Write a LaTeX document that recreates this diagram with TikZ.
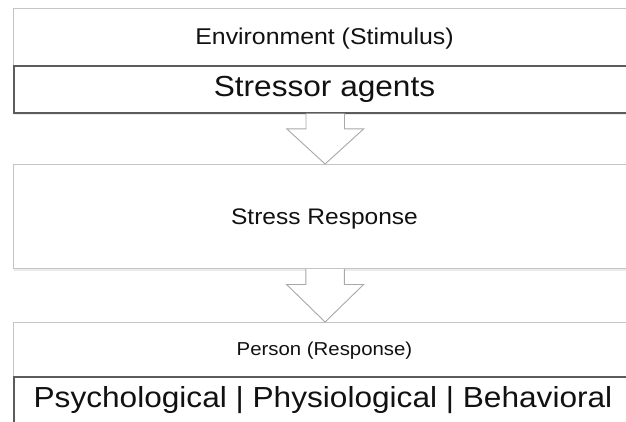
\documentclass[tikz,border=0pt]{standalone}
\usepackage{fontspec}
\setmainfont[FakeStretch=1.09]{Liberation Sans}
\usetikzlibrary{calc}
\definecolor{lightedge}{HTML}{C4C4C4}
\definecolor{darkedge}{HTML}{5C5C5C}
\definecolor{arrowedge}{HTML}{A8A8A8}
\definecolor{txt}{HTML}{111111}
\tikzset{
  x=1pt,y=1pt,
  boxbase/.style={rectangle, anchor=north west, minimum width=623, inner sep=0pt, fill=white},
  lightbox/.style={boxbase, draw=lightedge, line width=1.2pt},
  darkbox/.style={boxbase, draw=darkedge, line width=1.5pt},
  blockarrow/.style={fill=white, draw=arrowedge, line width=0.9pt, line join=miter},
  lbl/.style={anchor=base, inner sep=0pt, text=txt},
}
\begin{document}
\begin{tikzpicture}
\useasboundingbox (0,0) rectangle (626,-421);
\clip (0,0) rectangle (626,-421);
\fill[white] (0,0) rectangle (626,-421);
% shadows
\fill[black!8] (14,-9.5) rectangle (640,-114.5);
\fill[black!8] (14,-165.5) rectangle (640,-270.5);
\fill[black!8] (14,-323.5) rectangle (640,-440);
% boxes
\node[lightbox, minimum height=57] (env) at (13,-8) {};
\node[darkbox, minimum height=47] (stressor) at (13,-65) {};
\node[lightbox, minimum height=104] (stress) at (13,-164) {};
\node[lightbox, minimum height=54] (person) at (13,-322) {};
\node[darkbox, minimum height=70] (psych) at (13,-376) {};
% labels
\node[lbl, font=\fontsize{22.8}{26}\selectfont] (envt) at (324.5,-44.3) {Environment (Stimulus)};
\node[lbl, font=\fontsize{29}{33}\selectfont] (stressort) at (324.5,-96.7) {Stressor agents};
\node[lbl, font=\fontsize{22.5}{26}\selectfont] (stresst) at (324.5,-224) {Stress Response};
\node[lbl, font=\fontsize{18.7}{22}\selectfont] (persont) at (324.5,-355) {Person (Response)};
\node[lbl, font=\fontsize{29}{33}\selectfont] (psycht) at (323,-407) {Psychological | Physiological | Behavioral};
% block arrows
\draw[blockarrow] ($(stressor.south)+(-19.25,0)$) -- ++(0,-15.3) -- ++(-19.25,0)
  -- (stress.north) -- ($(stressor.south)+(38.5,-15.3)$) -- ++(-19.25,0) -- ++(0,15.3);
\draw[blockarrow] ($(stress.south)+(-19.25,0)$) -- ++(0,-15.3) -- ++(-19.25,0)
  -- (person.north) -- ($(stress.south)+(38.5,-15.3)$) -- ++(-19.25,0) -- ++(0,15.3);
\end{tikzpicture}
\end{document}
